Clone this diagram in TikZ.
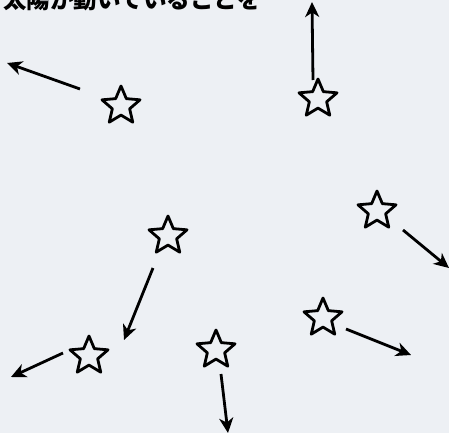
\documentclass[tikz,border=0pt]{standalone}
\usepackage{fontspec}
\newfontfamily\jp{Noto Sans CJK JP}
\usetikzlibrary{shapes.geometric,arrows.meta}
\definecolor{paper}{HTML}{EDF0F4}
\tikzset{
  starnode/.style={star, star points=5, star point ratio=2.2, minimum size=40pt,
    inner sep=0pt, draw=black, line width=2.8pt, line join=round},
  arr/.style={line width=2.8pt, -{Stealth[length=15pt,width=14pt,inset=4.5pt]}}
}
\begin{document}
\begin{tikzpicture}[x=1pt,y=-1pt]
\useasboundingbox (0,0) rectangle (449,433);
\fill[paper] (0,0) rectangle (449,433);
\begin{scope}
\clip (0,0) rectangle (449,433);
\node[anchor=west, inner sep=0pt, font=\jp\bfseries\fontsize{23.5pt}{25pt}\selectfont] (title) at (3,-1) {太陽が動いていることを};
\end{scope}
% stars
\node[starnode] (s1) at (121,106) {};
\node[starnode] (s2) at (318,99) {};
\node[starnode] (s3) at (377,211) {};
\node[starnode] (s4) at (323,318) {};
\node[starnode] (s5) at (168,236) {};
\node[starnode] (s6) at (89,356) {};
\node[starnode] (s7) at (216,350) {};
% arrow ends
\coordinate (t1) at (80,89);   \coordinate (h1) at (7,63);
\coordinate (t2) at (313,80);  \coordinate (h2) at (312,2);
\coordinate (t3) at (403,230); \coordinate (h3) at (449,268);
\coordinate (t4) at (346,329); \coordinate (h4) at (411,355);
\coordinate (t5) at (153,268); \coordinate (h5) at (124,340);
\coordinate (t6) at (63,353);  \coordinate (h6) at (11,377);
\coordinate (t7) at (221,374); \coordinate (h7) at (228,433);
\draw[arr] (t1) -- (h1);
\draw[arr] (t2) -- (h2);
\draw[arr] (t3) -- (h3);
\draw[arr] (t4) -- (h4);
\draw[arr] (t5) -- (h5);
\draw[arr] (t6) -- (h6);
\draw[arr] (t7) -- (h7);
\end{tikzpicture}
\end{document}
